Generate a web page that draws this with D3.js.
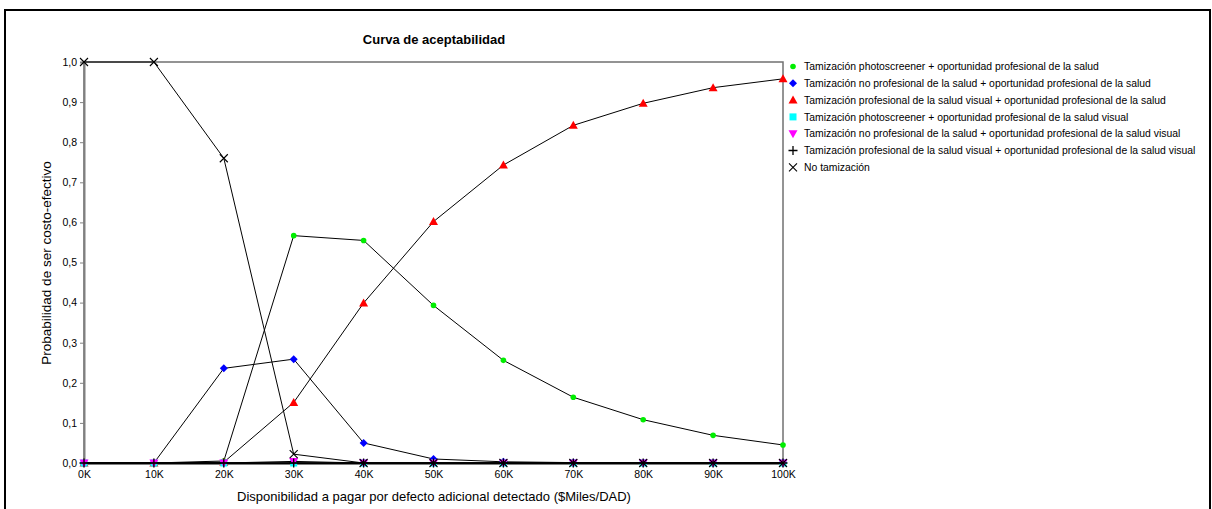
<!DOCTYPE html>
<html>
<head>
<meta charset="utf-8">
<script src="https://cdn.jsdelivr.net/npm/d3@7"></script>
<style>
  body { margin: 0; background: #fff; }
  svg text { font-family: "Liberation Sans", Arial, sans-serif; fill: #000; }
</style>
</head>
<body>
<svg id="svg" width="1212" height="509"></svg>
<script>
// willingness to pay (thousands)
var wtp = [0, 10, 20, 30, 40, 50, 60, 70, 80, 90, 100];
var xTickLabels = ['0K', '10K', '20K', '30K', '40K', '50K', '60K', '70K', '80K', '90K', '100K'];
var yTicks = [0, 0.1, 0.2, 0.3, 0.4, 0.5, 0.6, 0.7, 0.8, 0.9, 1.0];

var seriesNames = [
  'Tamización photoscreener + oportunidad profesional de la salud',
  'Tamización no profesional de la salud + oportunidad profesional de la salud',
  'Tamización profesional de la salud visual + oportunidad profesional de la salud',
  'Tamización photoscreener + oportunidad profesional de la salud visual',
  'Tamización no profesional de la salud  + oportunidad profesional de la salud visual',
  'Tamización profesional de la salud visual + oportunidad profesional de la salud visual',
  'No tamización'
];

var photoOp   = [0, 0, 0.005, 0.567, 0.555, 0.393, 0.256, 0.164, 0.108, 0.069, 0.045];
var noProfOp  = [0, 0, 0.236, 0.259, 0.050, 0.010, 0.003, 0.001, 0, 0, 0];
var profOp    = [0, 0, 0.002, 0.151, 0.399, 0.602, 0.743, 0.842, 0.897, 0.936, 0.958];
var photoVis  = [0, 0, 0, 0, 0, 0, 0, 0, 0, 0, 0];
var noProfVis = [0, 0, 0, 0.004, 0, 0, 0, 0, 0, 0, 0];
var profVis   = [0, 0, 0, 0, 0, 0, 0, 0, 0, 0, 0];
var noScreen  = [1.0, 1.0, 0.760, 0.022, 0, 0, 0, 0, 0, 0, 0];

var seriesValues = [photoOp, noProfOp, profOp, photoVis, noProfVis, profVis, noScreen];
var colors = ['#00ee00', '#0000ff', '#ff0000', '#00ffff', '#ff00ff', '#000000', '#000000'];
var symbols = ['circle', 'diamond', 'triangle', 'square', 'triangleDown', 'plus', 'cross'];

var svg = d3.select('#svg');
var m = {left: 84, top: 62, right: 783, bottom: 463};

// outer frame
svg.append('path')
  .attr('d', 'M5,515 L5,10 L1210,10 L1210,515')
  .attr('fill', 'none')
  .attr('stroke', '#000')
  .attr('stroke-width', 2);

var x = d3.scaleLinear().domain([0, 100]).range([m.left, m.right]);
var y = d3.scaleLinear().domain([0, 1]).range([m.bottom, m.top]);

// plot border
svg.append('rect')
  .attr('x', m.left).attr('y', m.top)
  .attr('width', m.right - m.left).attr('height', m.bottom - m.top)
  .attr('fill', 'none').attr('stroke', '#707070').attr('stroke-width', 1.5);

// axes
var yAxis = svg.append('g')
  .attr('transform', 'translate(' + m.left + ',0)')
  .call(d3.axisLeft(y).tickValues(yTicks).tickSize(4)
    .tickFormat(function (d) { return d3.format('.1f')(d).replace('.', ','); }));
yAxis.select('.domain').attr('stroke', '#808080').attr('stroke-width', 2);
yAxis.selectAll('line').attr('stroke', '#808080');
yAxis.selectAll('text').attr('font-size', 10.5).attr('fill', '#000');

var xAxis = svg.append('g')
  .attr('transform', 'translate(0,' + m.bottom + ')')
  .call(d3.axisBottom(x).tickValues(wtp).tickSize(3)
    .tickFormat(function (d, i) { return xTickLabels[i]; }));
xAxis.select('.domain').attr('stroke', '#000').attr('stroke-width', 2);
xAxis.selectAll('line').attr('stroke', '#808080');
xAxis.selectAll('text').attr('font-size', 10.5).attr('fill', '#000').attr('y', 8).attr('dy', '0.71em');

// titles
svg.append('text')
  .attr('x', 434).attr('y', 44)
  .attr('text-anchor', 'middle')
  .attr('font-size', 13).attr('font-weight', 'bold')
  .text('Curva de aceptabilidad');

svg.append('text')
  .attr('x', 434).attr('y', 501)
  .attr('text-anchor', 'middle')
  .attr('font-size', 13)
  .text('Disponibilidad a pagar por defecto adicional detectado ($Miles/DAD)');

svg.append('text')
  .attr('transform', 'translate(51,263) rotate(-90)')
  .attr('text-anchor', 'middle')
  .attr('font-size', 13.5)
  .text('Probabilidad de ser costo-efectivo');

// marker shapes
function marker(sel, kind, color) {
  if (kind === 'circle') {
    sel.append('circle').attr('r', 2.8).attr('fill', color);
  } else if (kind === 'diamond') {
    sel.append('path').attr('d', 'M0,-4 L4,0 L0,4 L-4,0 Z').attr('fill', color);
  } else if (kind === 'triangle') {
    sel.append('path').attr('d', 'M0,-4.5 L4.5,3.5 L-4.5,3.5 Z').attr('fill', color);
  } else if (kind === 'triangleDown') {
    sel.append('path').attr('d', 'M-4.5,-3.5 L4.5,-3.5 L0,4.5 Z').attr('fill', color);
  } else if (kind === 'square') {
    sel.append('rect').attr('x', -3.5).attr('y', -3.5).attr('width', 7).attr('height', 7).attr('fill', color);
  } else if (kind === 'plus') {
    sel.append('path').attr('d', 'M-4.5,0 L4.5,0 M0,-4.5 L0,4.5')
      .attr('stroke', color).attr('stroke-width', 1.3).attr('fill', 'none');
  } else if (kind === 'cross') {
    sel.append('path').attr('d', 'M-4,-4 L4,4 M-4,4 L4,-4')
      .attr('stroke', color).attr('stroke-width', 1.1).attr('fill', 'none');
  }
}

var line = d3.line()
  .x(function (d, i) { return x(wtp[i]); })
  .y(function (d) { return y(d); });

var plot = svg.append('g');
seriesValues.forEach(function (vals, s) {
  var g = plot.append('g');
  g.append('path')
    .attr('d', line(vals))
    .attr('fill', 'none')
    .attr('stroke', '#000')
    .attr('stroke-width', 1);
  vals.forEach(function (v, i) {
    var p = g.append('g').attr('transform', 'translate(' + x(wtp[i]) + ',' + y(v) + ')');
    marker(p, symbols[s], colors[s]);
  });
});

// legend
var legend = svg.append('g');
seriesNames.forEach(function (name, i) {
  var row = legend.append('g').attr('transform', 'translate(793,' + (66.5 + i * 16.8) + ')');
  marker(row, symbols[i], colors[i]);
  row.append('text')
    .attr('x', 11).attr('dy', '0.35em')
    .attr('font-size', 10.4)
    .text(name);
});
</script>
</body>
</html>
